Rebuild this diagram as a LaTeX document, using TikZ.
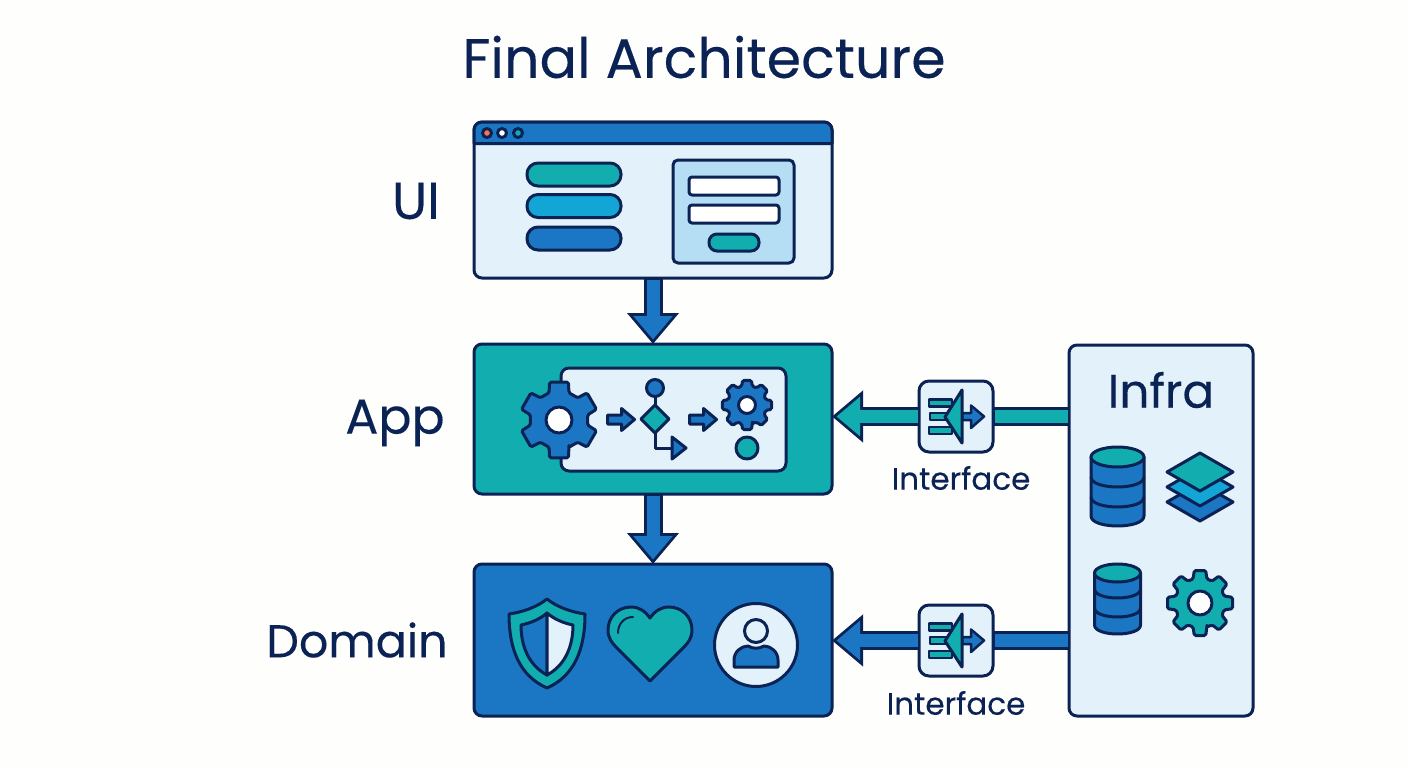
\documentclass[tikz,border=0pt]{standalone}
\usepackage{fontspec}
\setmainfont{Poppins}[FakeBold=0.2]
\usetikzlibrary{arrows.meta,shapes.geometric}

\definecolor{navy}{HTML}{0B2255}
\definecolor{tealc}{HTML}{12ADAF}
\definecolor{bluec}{HTML}{1B76C4}
\definecolor{skyc}{HTML}{13A5D6}
\definecolor{pale}{HTML}{E3F1FB}
\definecolor{panelc}{HTML}{B5DDF3}
\definecolor{paper}{HTML}{FEFEFC}

\tikzset{
  ink/.style={draw=navy,line width=3pt,line join=round},
  card/.style={ink,rectangle,rounded corners=8pt,inner sep=0pt,outer sep=0pt},
  pill/.style={ink,rectangle,rounded corners=11pt,inner sep=0pt,outer sep=0pt,minimum width=94pt,minimum height=23pt},
  dot/.style={ink,circle,inner sep=0pt,outer sep=0pt},
  tier/.style={text=navy,inner sep=0pt,font=\fontsize{46}{50}\selectfont},
  small/.style={text=navy,inner sep=0pt,font=\fontsize{31}{34}\selectfont}
}

\newcommand{\flowarrow}[3]{
  \draw[navy,line width=19pt,-{Triangle[length=31pt,width=50pt]}] (#2) -- (#3);
  \draw[#1,line width=13pt,shorten <=1.5pt,shorten >=4.5pt,-{Triangle[length=23.5pt,width=38pt]}] (#2) -- (#3);
}
\newcommand{\flowbar}[3]{
  \draw[navy,line width=19pt] (#2) -- (#3);
  \draw[#1,line width=13pt,shorten <=1.5pt,shorten >=1.5pt] (#2) -- (#3);
}
\newcommand{\gearicon}[8]{
  \begin{scope}[shift={(#1,#2)}]
  \draw[ink,fill=#8,rounded corners=1.5pt] (90-#6-6:#4)
    \foreach \a in {1,...,#5} {
      -- ({90+(\a-1)*360/#5-#6}:#3) -- ({90+(\a-1)*360/#5+#6}:#3)
      -- ({90+(\a-1)*360/#5+#6+6}:#4) -- ({90+\a*360/#5-#6-6}:#4)
    } -- cycle;
  \draw[ink,fill=white] (0,0) circle [radius=#7];
  \end{scope}
}
\newcommand{\dbicon}[7]{
  \draw[ink,fill=bluec] ({#1-#2},#3) -- ({#1-#2},#7)
    .. controls ({#1-#2},{#7+1.33*#4}) and ({#1+#2},{#7+1.33*#4}) .. ({#1+#2},#7) -- ({#1+#2},#3) -- cycle;
  \draw[ink] ({#1-#2},#5) .. controls ({#1-#2},{#5+1.33*#4}) and ({#1+#2},{#5+1.33*#4}) .. ({#1+#2},#5);
  \draw[ink] ({#1-#2},#6) .. controls ({#1-#2},{#6+1.33*#4}) and ({#1+#2},{#6+1.33*#4}) .. ({#1+#2},#6);
  \draw[ink,fill=tealc] (#1,#3) ellipse [x radius=#2,y radius=#4];
}
\newcommand{\stepicon}[2]{
  \draw[ink,fill=bluec] (#1,#2-4.5) -- (#1+14,#2-4.5) -- (#1+14,#2-11) -- (#1+27,#2) -- (#1+14,#2+11) -- (#1+14,#2+4.5) -- (#1,#2+4.5) -- cycle;
}
\newcommand{\ifaceicon}[1]{
  \begin{scope}[shift={(0,#1)}]
  \draw[ink,line width=2.5pt,fill=tealc] (929,399.5) rectangle (952,406.5);
  \draw[ink,line width=2.5pt,fill=tealc] (930,413) rectangle (950,420);
  \draw[ink,line width=2.5pt,fill=tealc] (929,427) rectangle (952,434);
  \draw[ink,line width=2.5pt,fill=bluec] (962,413) -- (971,413) -- (971,405.5) -- (984,416.5) -- (971,428) -- (971,420) -- (962,420) -- cycle;
  \draw[ink,fill=tealc] (962,390) -- (962,443) -- (945,417) -- cycle;
  \end{scope}
}

\begin{document}
\begin{tikzpicture}[x=1pt,y=-1pt]
\useasboundingbox (0,0) rectangle (1408,768);
\fill[paper] (0,0) rectangle (1408,768);

\node[text=navy,inner sep=0pt,font=\fontsize{55.5}{60}\selectfont] (title) at (704,57) {Final Architecture};

\node[tier,font=\fontsize{52}{56}\selectfont] (uilabel) at (416,201) {UI};
\node[tier,font=\fontsize{49}{52}\selectfont] (applabel) at (395,423) {App};
\node[tier] (domainlabel) at (357,640) {Domain};

\node[card,fill=pale,minimum width=358pt,minimum height=156pt] (ui) at (653,200) {};
\node[card,fill=tealc,minimum width=358pt,minimum height=150pt] (app) at (653,419) {};
\node[card,fill=bluec,minimum width=358pt,minimum height=152pt] (domain) at (653,640) {};
\node[card,fill=pale,minimum width=184pt,minimum height=371pt] (infra) at (1161,530.5) {};

\node[card,rounded corners=10pt,fill=pale,minimum width=74pt,minimum height=71pt] (ifaceone) at (956,416.5) {};
\node[card,rounded corners=10pt,fill=pale,minimum width=74pt,minimum height=71pt] (ifacetwo) at (956,640.5) {};

\flowarrow{bluec}{ui.south}{app.north}
\flowarrow{bluec}{app.south}{domain.north}
\flowarrow{tealc}{ifaceone.west}{app.east |- ifaceone.west}
\flowarrow{bluec}{ifacetwo.west}{domain.east |- ifacetwo.west}
\flowbar{tealc}{ifaceone.east}{infra.west |- ifaceone.east}
\flowbar{bluec}{ifacetwo.east}{infra.west |- ifacetwo.east}

\ifaceicon{0}
\ifaceicon{224}
\node[small] (ifacelabelone) at (961,478) {Interface};
\node[small] (ifacelabeltwo) at (956,703) {Interface};

\draw[ink,fill=bluec] (474,143.5) [rounded corners=8pt] -- (474,122) -- (832,122) [sharp corners] -- (832,143.5) -- cycle;
\node[dot,fill=red!60!orange!70,minimum size=9pt] (dotred) at (487,133) {};
\node[dot,fill=white,minimum size=9pt] (dotwhite) at (502,133) {};
\node[dot,fill=tealc,minimum size=9pt] (dotteal) at (518,133) {};

\node[pill,fill=tealc] (pillone) at (574,174.5) {};
\node[pill,fill=skyc] (pilltwo) at (574,206) {};
\node[pill,fill=bluec] (pillthree) at (574,238.5) {};

\node[card,rounded corners=5pt,fill=panelc,minimum width=121pt,minimum height=103pt] (form) at (733.5,211.5) {};
\node[card,rounded corners=3pt,fill=white,minimum width=90pt,minimum height=18pt] (fieldone) at (734,186) {};
\node[card,rounded corners=3pt,fill=white,minimum width=90pt,minimum height=18pt] (fieldtwo) at (734,214) {};
\node[pill,rounded corners=8pt,fill=tealc,minimum width=50pt,minimum height=17pt] (send) at (734,242.5) {};

\node[card,fill=pale,minimum width=225pt,minimum height=103pt] (flow) at (673.5,419.5) {};
\gearicon{559}{420}{39}{29}{6}{14}{13}{bluec}
\stepicon{607.5}{419.5}
\stepicon{689.5}{419.5}
\node[dot,fill=bluec,minimum size=17pt] (start) at (655,388) {};
\node[ink,diamond,aspect=1,inner sep=0pt,outer sep=0pt,fill=tealc,minimum size=28pt] (choice) at (655,419) {};
\coordinate (branch) at (672,448);
\draw[ink] (start) -- (choice);
\draw[ink] (choice) |- (branch);
\draw[ink,fill=bluec] (672,437) -- (686,448) -- (672,459) -- cycle;
\gearicon{747}{405}{25}{19.5}{8}{10}{8.5}{bluec}
\node[dot,fill=tealc,minimum size=22pt] (stop) at (747,448) {};

\draw[ink,fill=tealc] (547,599) .. controls (537,607) and (523,612) .. (509,614) .. controls (509,650) and (520,676) .. (547,688) .. controls (574,676) and (585,650) .. (585,614) .. controls (571,612) and (557,607) .. (547,599) -- cycle;
\draw[ink,fill=bluec] (547,613) .. controls (540,619) and (531,623) .. (521,625) .. controls (521,648) and (530,666) .. (547,675) -- cycle;
\draw[ink,fill=pale] (547,613) .. controls (554,619) and (563,623) .. (573,625) .. controls (573,648) and (564,666) .. (547,675) -- cycle;

\draw[ink,fill=tealc] (650,618) .. controls (655,611) and (661,607) .. (669,607) .. controls (682,607) and (692,617) .. (692,630) .. controls (692,638) and (688,643) .. (684,647) -- (650,681) -- (616,647) .. controls (612,643) and (608,638) .. (608,630) .. controls (608,617) and (618,607) .. (631,607) .. controls (639,607) and (645,611) .. (650,618) -- cycle;
\draw[ink,line width=2pt,line cap=round] (618,633) .. controls (618,624) and (624,617) .. (633,617);

\node[dot,fill=pale,minimum size=83pt] (avatar) at (756,645) {};
\node[dot,fill=pale,minimum size=23pt] (head) at (756,631) {};
\draw[ink,fill=bluec] (734,667) -- (734,660) .. controls (734,652) and (741,646) .. (748,646) .. controls (753,649) and (759,649) .. (764,646) .. controls (771,646) and (778,652) .. (778,660) -- (778,667) -- cycle;

\node[text=navy,inner sep=0pt,font=\fontsize{47}{50}\selectfont] (infralabel) at (1161,390) {Infra};
\dbicon{1117.5}{26.5}{457}{10}{477}{497}{516}
\dbicon{1117.5}{23}{573}{9}{589}{608}{625}
\draw[ink,fill=bluec] (1167,502) -- (1200,483) -- (1233,502) -- (1200,521) -- cycle;
\draw[ink,fill=skyc] (1167,487) -- (1200,468) -- (1233,487) -- (1200,506) -- cycle;
\draw[ink,fill=tealc] (1167,472) -- (1200,453) -- (1233,472) -- (1200,491) -- cycle;
\gearicon{1200}{603}{33}{25}{8}{10}{12}{tealc}
\end{tikzpicture}
\end{document}
